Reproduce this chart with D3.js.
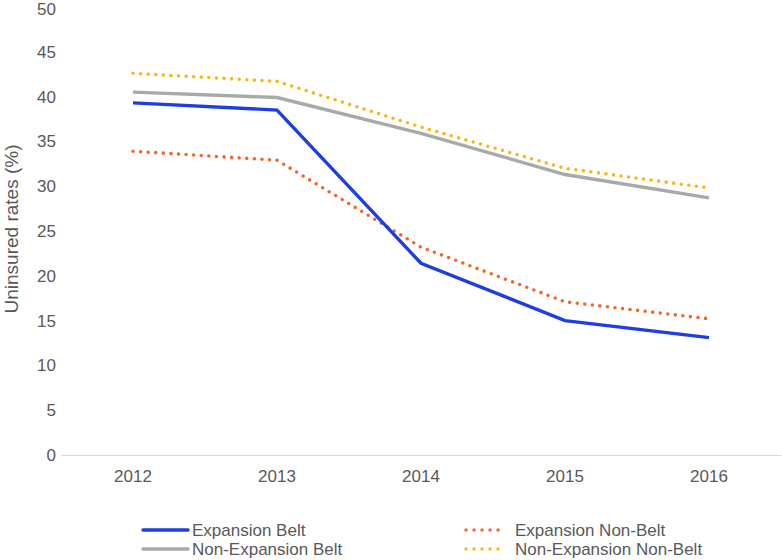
<!DOCTYPE html>
<html><head><meta charset="utf-8">
<script src="https://cdn.jsdelivr.net/npm/d3@7"></script>
<style>body{margin:0;background:#fff;} text{font-family:Arial,"Liberation Sans",sans-serif;}</style>
</head><body>
<svg id="c" width="782" height="560"></svg>
<script>
const years = ["2012","2013","2014","2015","2016"];
const seriesNames = ["Expansion Belt","Non-Expansion Belt","Expansion Non-Belt","Non-Expansion Non-Belt"];
const expansionBelt = [39.3, 38.5, 21.4, 15.0, 13.1];
const nonExpansionBelt = [40.5, 39.9, 35.9, 31.3, 28.7];
const expansionNonBelt = [33.9, 32.9, 23.2, 17.1, 15.2];
const nonExpansionNonBelt = [42.6, 41.7, 36.6, 32.0, 29.8];
const yTicks = [0,5,10,15,20,25,30,35,40,45,50];
const colors = ["#1f3fdc","#a6abaa","#f4652a","#fdb515"];
const dashed = [false,false,true,true];
const allValues = [expansionBelt, nonExpansionBelt, expansionNonBelt, nonExpansionNonBelt];

const svg = d3.select("#c");
const x = d3.scaleBand().domain(years).range([61, 781]);
const y = d3.scaleLinear().domain([0,50]).range([455, 7]);

// y tick labels
const yAxis = svg.append("g").attr("transform","translate(62,0)")
  .call(d3.axisLeft(y).tickValues(yTicks).tickSize(0).tickPadding(6));
yAxis.select(".domain").remove();
yAxis.selectAll("text").attr("font-size",17).attr("fill","#595959").attr("font-family","Arial, 'Liberation Sans', sans-serif").attr("x",-6)
  .attr("dy", d => d === 50 ? "0.45em" : "0.32em");

// x axis baseline + labels
const xAxis = svg.append("g").attr("transform","translate(0,455)")
  .call(d3.axisBottom(x).tickSize(0).tickPadding(15));
xAxis.select(".domain").attr("stroke","#d9d9d9").attr("stroke-width",1.2);
xAxis.selectAll("text").attr("font-size",17).attr("fill","#595959").attr("font-family","Arial, 'Liberation Sans', sans-serif");

// axis title
svg.append("text").attr("transform","translate(18,229) rotate(-90)")
  .attr("text-anchor","middle").attr("font-size",19).attr("fill","#595959")
  .text("Uninsured rates (%)");

const line = d3.line().x((d,i)=>x(years[i])+x.bandwidth()/2).y(d=>y(d));
// draw order: orange, yellow, gray, blue
[2,3,1,0].forEach(k=>{
  const p = svg.append("path").datum(allValues[k]).attr("d",line)
    .attr("fill","none").attr("stroke",colors[k]);
  if(dashed[k]) p.attr("stroke-width",3.6).attr("stroke-linecap","round").attr("stroke-dasharray","0 7.6");
  else p.attr("stroke-width",3.4).attr("stroke-linejoin","miter");
});

// legend
const legPos = [[143,530],[143,549],[465,530],[465,549]];
seriesNames.forEach((n,k)=>{
  const [lx,ly] = legPos[k];
  const g = svg.append("g");
  const l = g.append("line").attr("x1",lx+(dashed[k]?1:0)).attr("x2",lx+(dashed[k]?41:45)).attr("y1",ly).attr("y2",ly).attr("stroke",colors[k]);
  if(dashed[k]) l.attr("stroke-width",3.4).attr("stroke-linecap","round").attr("stroke-dasharray","0 8");
  else l.attr("stroke-width",3.4).attr("stroke-linecap","round");
  g.append("text").attr("x",lx+(dashed[k]?50:49)).attr("y",ly).attr("dy","0.35em")
    .attr("font-size",17).attr("fill","#595959").text(n);
});
</script>
</body></html>
